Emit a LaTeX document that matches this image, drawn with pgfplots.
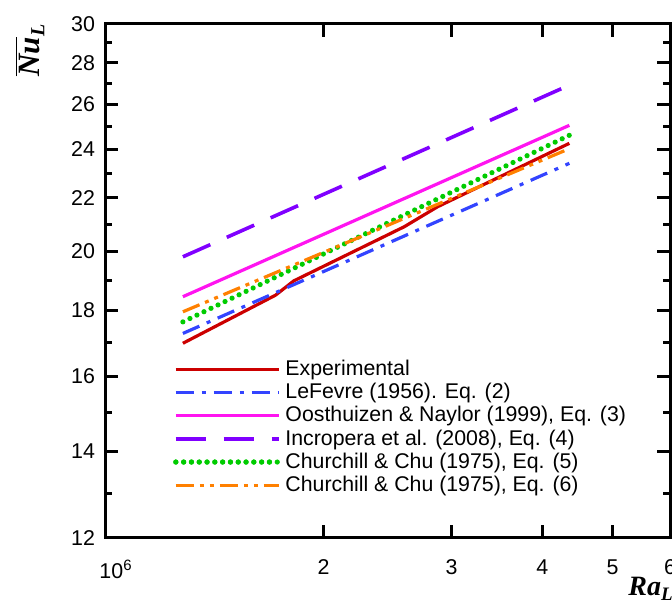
\documentclass[border=0pt]{standalone}
\usepackage{fontspec}
\setmainfont{Liberation Sans}
\newfontfamily\serifbi{Liberation Serif}[UprightFont=*, BoldItalicFont=* Bold Italic]
\usepackage{pgfplots}
\pgfplotsset{compat=1.18}
\definecolor{cRed}{RGB}{204,0,0}
\definecolor{cBlue}{RGB}{51,68,255}
\definecolor{cMag}{RGB}{255,20,240}
\definecolor{cPur}{RGB}{128,0,255}
\definecolor{cGreen}{RGB}{0,204,0}
\definecolor{cOrange}{RGB}{255,128,0}
\begin{document}
\begin{tikzpicture}
\begin{axis}[
  scale only axis, width=282.5pt, height=257pt,
  xmode=log, ymode=log,
  xmin=1e6, xmax=6e6, ymin=12, ymax=30,
  xtick={2e6,3e6,4e6,5e6,6e6}, xticklabels={2,3,4,5,6},
  extra x ticks={1e6}, extra x tick labels={10\textsuperscript{6}},
  extra x tick style={xticklabel style={xshift=5.5pt}},
  ytick={12,14,16,18,20,22,24,26,28,30},
  yticklabels={12,14,16,18,20,22,24,26,28,30},
  minor ytick={13,15,17,19,21,23,25,27,29},
  minor xtick={},
  /pgf/number format/assume math mode=true,
  tick label style={font=\fontsize{10.7}{12}\selectfont},
  xticklabel style={yshift=-7.5pt},
  yticklabel style={xshift=-1.5pt},
  axis line style={line width=1.5pt},
  tick style={black, line width=1.5pt},
  major tick length=6.5pt, minor tick length=3.5pt,
  legend style={draw=none, fill=none, at={(rel axis cs:0.12,0.355)}, anchor=north west,
    font=\fontsize{10.65}{11.5}\selectfont, row sep=-1.6pt, inner sep=0pt,
    cells={anchor=west}},
  legend image code/.code={\draw[#1] (0pt,0pt) -- (48.5pt,0pt); \path (0pt,0pt) -- (51.5pt,0pt);},
]
\addplot[cRed, line width=1.6pt] coordinates {
 (1.28e6,16.98) (1.717e6,18.5) (1.82e6,18.98) (2.583e6,20.9) (2.872e6,21.66) (4.36e6,24.25)};
\addlegendentry{Experimental}
\addplot[cBlue, line width=1.6pt, dash pattern=on 9pt off 4pt on 2pt off 4pt] coordinates {
 (1.28e6,17.28) (4.36e6,23.4)};
\addlegendentry{LeFevre (1956). Eq. (2)}
\addplot[cMag, line width=1.6pt] coordinates {
 (1.28e6,18.45) (4.36e6,25.04)};
\addlegendentry{Oosthuizen \& Naylor (1999), Eq. (3)}
\addplot[cPur, line width=1.8pt, dash pattern=on 15pt off 9pt] coordinates {
 (1.28e6,19.81) (4.36e6,26.9)};
\addlegendentry{Incropera et al. (2008), Eq. (4)}
\addplot[cGreen, line width=2.6pt, line cap=round, dash pattern=on 0pt off 3.9pt] coordinates {
 (1.28e6,17.64) (4.36e6,24.6)};
\addlegendentry{Churchill \& Chu (1975), Eq. (5)}
\addplot[cOrange, line width=1.6pt, dash pattern=on 9pt off 3pt on 2pt off 3pt on 2pt off 3pt] coordinates {
 (1.28e6,17.96) (4.36e6,24.02)};
\addlegendentry{Churchill \& Chu (1975), Eq. (6)}
\end{axis}
\node[rotate=90, anchor=center] at ([xshift=-37.5pt,yshift=-13pt]current axis.north west)
  {\fontsize{15.5}{18}\selectfont $\overline{\hbox{\serifbi\bfseries\itshape Nu}}_{\hbox{\serifbi\bfseries\itshape\fontsize{10}{12}\selectfont L}}$};
\node[anchor=base west, inner sep=0pt] at ([xshift=-21pt,yshift=-29pt]current axis.south east)
  {\fontsize{14}{16}\selectfont $\hbox{\serifbi\bfseries\itshape Ra}_{\hbox{\serifbi\bfseries\itshape\fontsize{9.5}{11}\selectfont L}}$};
\pgfresetboundingbox
\path[use as bounding box] ([xshift=-52.5pt,yshift=-36pt]current axis.south west) rectangle ([xshift=1pt,yshift=12pt]current axis.north east);
\end{tikzpicture}
\end{document}
